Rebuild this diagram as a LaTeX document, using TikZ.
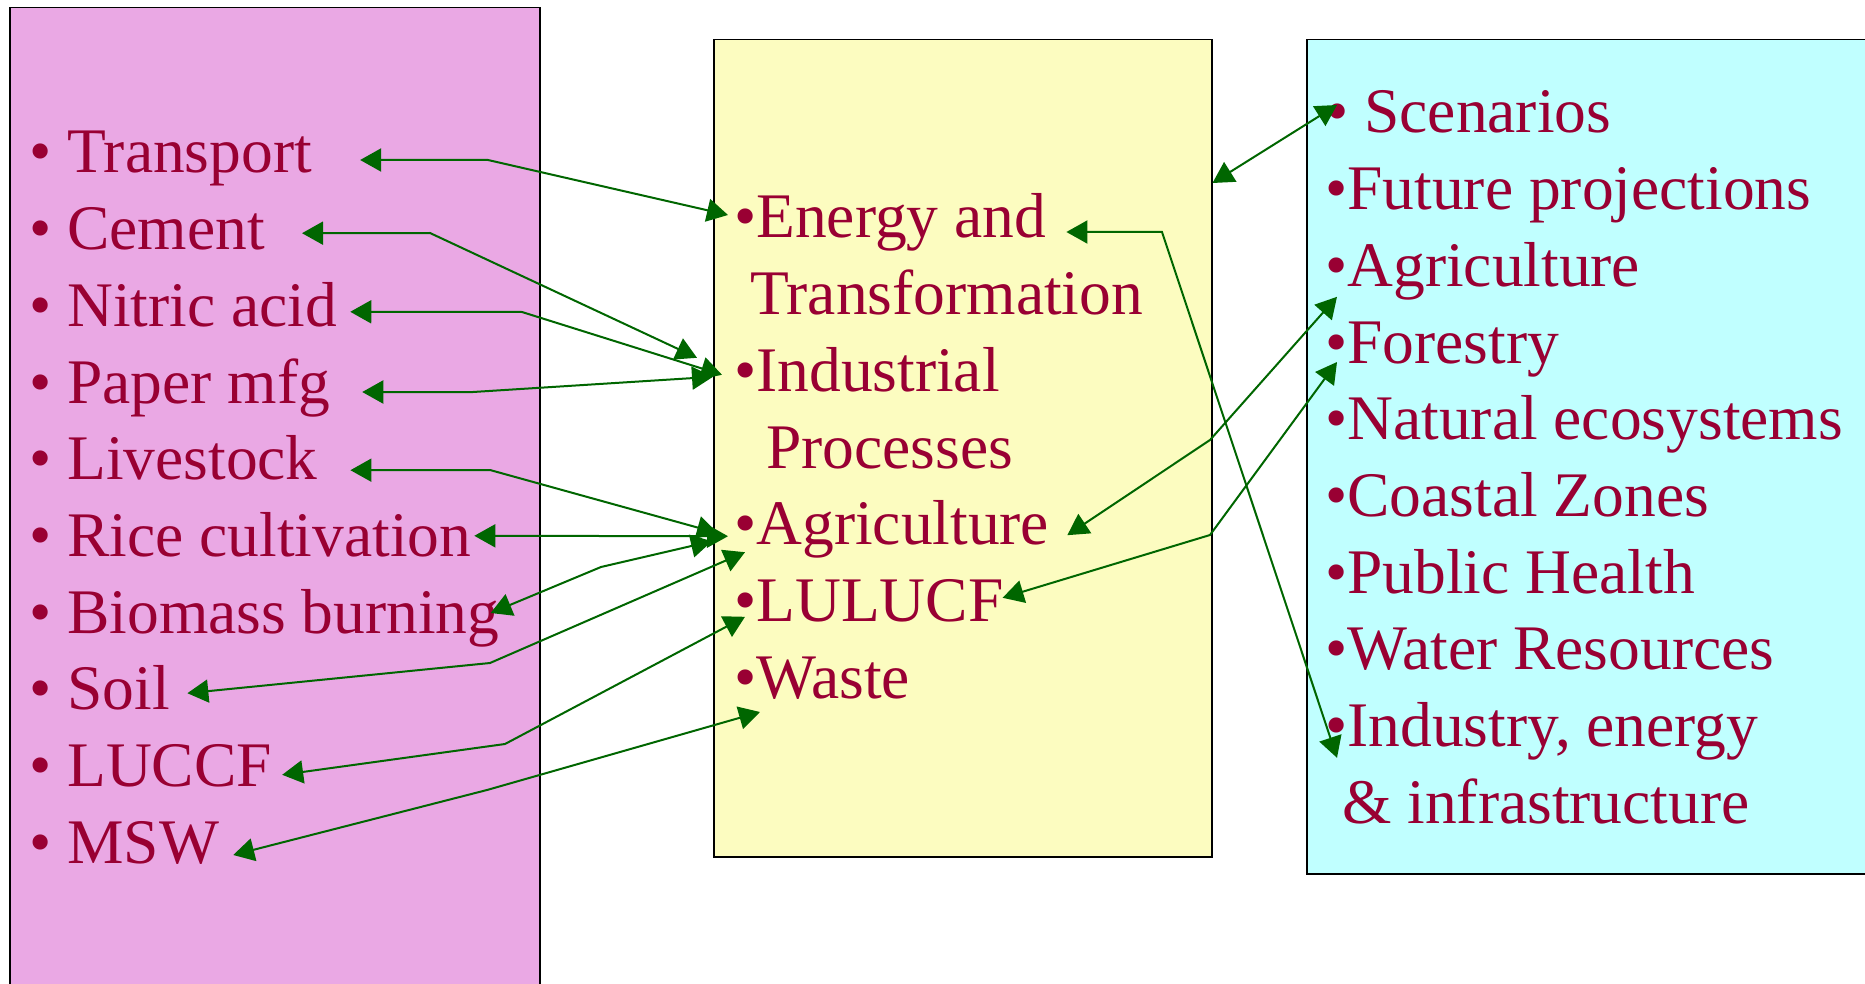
\documentclass[tikz,border=0pt]{standalone}
\usepackage{fontspec}
\setmainfont{Liberation Serif}
\usetikzlibrary{arrows.meta,calc}

\definecolor{pinkbg}{RGB}{234,168,228}
\definecolor{yellowbg}{RGB}{252,252,192}
\definecolor{cyanbg}{RGB}{192,255,255}
\definecolor{itemred}{RGB}{153,0,51}
\definecolor{linkgreen}{RGB}{0,102,0}

\tikzset{
  panel/.style={draw=black, line width=1.5pt, anchor=north west, inner sep=0pt},
  item/.style={anchor=base west, inner sep=0pt, text=itemred,
    font=\fontsize{63.5}{76}\selectfont, text height=43pt, text depth=14pt},
  link/.style={linkgreen, line width=2pt,
    >={Triangle[length=21pt,width=23pt]}, <->},
}

\begin{document}
\begin{tikzpicture}[x=1pt,y=-1pt]
    % 全体の大きさ (ピクセル座標: 下向きが正)
    \useasboundingbox[fill=white] (0,0) rectangle (1865,984);

    % 三つの枠
    \node[panel, fill=pinkbg, minimum width=530pt, minimum height=995pt] (srcbox) at (9,7) {};
    \node[panel, fill=yellowbg, minimum width=498pt, minimum height=817pt] (sectbox) at (713,39) {};
    \node[panel, fill=cyanbg, minimum width=580pt, minimum height=834pt] (impbox) at (1306,39) {};

    % 左の項目
    \node[item] (tr) at (29,173) {• Transport};
    \node[item] (ce) at (29,249.7) {• Cement};
    \node[item] (ni) at (29,326.3) {• Nitric acid};
    \node[item] (pa) at (29,403) {• Paper mfg};
    \node[item] (li) at (29,479.7) {• Livestock};
    \node[item] (ri) at (29,556.3) {• Rice cultivation};
    \node[item] (bi) at (29,633) {• Biomass burning};
    \node[item] (so) at (29,709.7) {• Soil};
    \node[item] (lc) at (29,786.3) {• LUCCF};
    \node[item] (ms) at (29,863) {• MSW};

    % 中央の項目
    \node[item] (en) at (734,238) {•Energy and};
    \node[item] (tf) at (750,314.7) {Transformation};
    \node[item] (ind) at (734,391.3) {•Industrial};
    \node[item] (pr) at (766,468) {Processes};
    \node[item] (ag) at (734,544.7) {•Agriculture};
    \node[item] (lu) at (734,621.3) {•LULUCF};
    \node[item] (wa) at (734,698) {•Waste};

    % 右の項目
    \node[item] (sc) at (1326,133) {• Scenarios};
    \node[item] (fu) at (1325,209.7) {•Future projections};
    \node[item] (agr) at (1325,286.3) {•Agriculture};
    \node[item] (fo) at (1325,363) {•Forestry};
    \node[item] (na) at (1325,439.7) {•Natural ecosystems};
    \node[item] (co) at (1325,516.3) {•Coastal Zones};
    \node[item] (ph) at (1325,593) {•Public Health};
    \node[item] (wr) at (1325,669.7) {•Water Resources};
    \node[item] (iny) at (1325,746.3) {•Industry, energy};
    \node[item] (inf) at (1342,823) {\& infrastructure};

    % 左と中央を結ぶ矢印 (折れ線)
    \draw[link] ($(tr.east)+(48,1.5)$) -- (488,160) -- ($(en.west)+(-6,-8.5)$);
    \draw[link] ($(ce.east)+(37,-2)$) -- (430,233) -- ($(ind.west)+(-37,-19)$);
    \draw[link] ($(ni.east)+(13,0)$) -- (522,312) -- ($(ind.west)+(-12,-2)$);
    \draw[link] ($(pa.east)+(32,3.5)$) -- (473,392) -- ($(ind.west)+(-21,0)$);
    \draw[link] ($(li.east)+(32.5,5)$) -- (490,470) -- ($(ag.west)+(-16,3)$);
    \draw[link] ($(ri.east)+(3,-6)$) -- ($(ag.west)+(-6,6)$);
    \draw[link] ($(bi.east)+(-9,-5.5)$) -- (601,567) -- ($(ag.west)+(-22,11)$);
    \draw[link] ($(so.east)+(17.5,-2)$) -- (490,663) -- ($(ag.west)+(11,22)$);
    \draw[link] ($(lc.east)+(10,3)$) -- (505,744) -- ($(lu.west)+(11,10)$);
    \draw[link] ($(ms.east)+(14,6.5)$) -- (487,790) -- ($(wa.west)+(26,28.5)$);

    % 中央と右を結ぶ矢印
    \draw[link] ($(sectbox.north east)+(0,144)$) -- ($(sc.west)+(11,-13.5)$);
    \draw[link] ($(en.east)+(20,8.5)$) -- (1162,232) -- ($(iny.west)+(12,26)$);
    \draw[link] ($(ag.east)+(18,5)$) -- (1210,440) -- ($(agr.west)+(12,25)$);
    \draw[link] ($(lu.east)+(-1,-9)$) -- (1210,535) -- ($(fo.west)+(12,13.5)$);
\end{tikzpicture}
\end{document}
